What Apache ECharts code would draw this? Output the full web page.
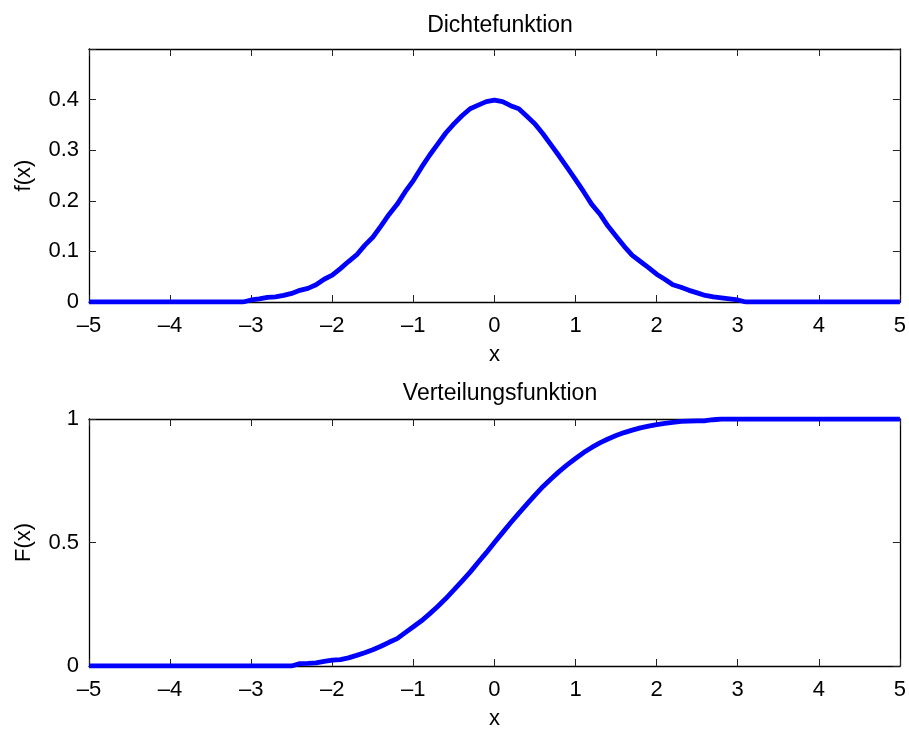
<!DOCTYPE html>
<html><head><meta charset="utf-8">
<script src="https://cdn.jsdelivr.net/npm/echarts@6/dist/echarts.min.js"></script>
<style>html,body{margin:0;padding:0;background:#fff}#c{width:909px;height:731px}</style>
</head><body><div id="c"></div>
<script>
const titles = ['Dichtefunktion', 'Verteilungsfunktion'];
const xAxisTitle = 'x';
const yAxisTitles = ['f(x)', 'F(x)'];
const xTicks = [-5, -4, -3, -2, -1, 0, 1, 2, 3, 4, 5];
const pdfTicks = [0, 0.1, 0.2, 0.3, 0.4];
const cdfTicks = [0, 0.5, 1];

const pdfX = [-5, -3.1, -3.0, -2.9, -2.8, -2.7, -2.6, -2.5, -2.4, -2.3, -2.2, -2.1, -2.0, -1.9, -1.8, -1.7, -1.6, -1.5, -1.4, -1.3, -1.2, -1.1, -1.0, -0.9, -0.8, -0.7, -0.6, -0.5, -0.4, -0.3, -0.2, -0.1, 0.0, 0.1, 0.2, 0.3, 0.4, 0.5, 0.6, 0.7, 0.8, 0.9, 1.0, 1.1, 1.2, 1.3, 1.4, 1.5, 1.6, 1.7, 1.8, 1.9, 2.0, 2.1, 2.2, 2.3, 2.4, 2.5, 2.6, 2.7, 2.8, 2.9, 3.0, 3.1, 5];
const pdfY = [0, 0.000, 0.004, 0.006, 0.009, 0.010, 0.013, 0.017, 0.023, 0.027, 0.034, 0.045, 0.053, 0.066, 0.080, 0.093, 0.112, 0.128, 0.150, 0.173, 0.193, 0.218, 0.240, 0.266, 0.290, 0.312, 0.334, 0.352, 0.368, 0.382, 0.389, 0.396, 0.399, 0.396, 0.388, 0.382, 0.367, 0.352, 0.332, 0.310, 0.288, 0.265, 0.242, 0.218, 0.193, 0.174, 0.150, 0.130, 0.110, 0.092, 0.080, 0.068, 0.055, 0.045, 0.034, 0.029, 0.023, 0.018, 0.013, 0.010, 0.008, 0.006, 0.004, 0.000, 0];

const cdfX = [-5, -2.5, -2.4, -2.3, -2.2, -2.1, -2.0, -1.9, -1.8, -1.7, -1.6, -1.5, -1.4, -1.3, -1.2, -1.1, -1.0, -0.9, -0.8, -0.7, -0.6, -0.5, -0.4, -0.3, -0.2, -0.1, 0.0, 0.1, 0.2, 0.3, 0.4, 0.5, 0.6, 0.7, 0.8, 0.9, 1.0, 1.1, 1.2, 1.3, 1.4, 1.5, 1.6, 1.7, 1.8, 1.9, 2.0, 2.1, 2.2, 2.3, 2.4, 2.5, 2.6, 2.7, 2.8, 5];
const cdfY = [0, 0.000, 0.010, 0.011, 0.013, 0.019, 0.024, 0.026, 0.033, 0.043, 0.054, 0.066, 0.080, 0.096, 0.111, 0.135, 0.159, 0.183, 0.211, 0.241, 0.273, 0.308, 0.344, 0.380, 0.420, 0.459, 0.500, 0.540, 0.580, 0.618, 0.655, 0.692, 0.727, 0.758, 0.788, 0.815, 0.840, 0.864, 0.885, 0.903, 0.919, 0.933, 0.945, 0.955, 0.964, 0.971, 0.977, 0.982, 0.986, 0.990, 0.991, 0.992, 0.993, 0.997, 1.000, 1.000];

const FONT = '"Liberation Sans", Arial, sans-serif';
const FS = 22;
const TFS = 23;
const fmt = v => String(v).replace('-', '\u2013');

const grids = [
  {left: 89, top: 49, width: 812, height: 253},
  {left: 89, top: 419, width: 812, height: 251}
];
const yDefs = [
  {min: 0, max: 0.5, interval: 0.1, ticks: pdfTicks},
  {min: 0, max: 1, interval: 0.5, ticks: cdfTicks}
];

const tickStyle = {show: true, inside: true, length: 7, lineStyle: {color: '#222', width: 1}};
const lineStyle = {color: '#000', width: 1.3};

const xAxes = [], yAxes = [], series = [];
[0, 1].forEach(i => {
  xAxes.push({
    type: 'value', gridIndex: i, min: xTicks[0], max: xTicks[xTicks.length - 1], interval: 1,
    position: 'bottom',
    axisLine: {show: true, onZero: false, lineStyle},
    axisTick: tickStyle, splitLine: {show: false},
    axisLabel: {color: '#000', fontSize: FS, fontFamily: FONT, margin: 13, formatter: fmt},
    name: xAxisTitle, nameLocation: 'middle', nameGap: 42,
    nameTextStyle: {color: '#000', fontSize: FS, fontFamily: FONT}
  });
  xAxes.push({
    type: 'value', gridIndex: i, min: xTicks[0], max: xTicks[xTicks.length - 1], interval: 1,
    position: 'top',
    axisLine: {show: true, onZero: false, lineStyle},
    axisTick: tickStyle, splitLine: {show: false}, axisLabel: {show: false}
  });
  const yd = yDefs[i];
  yAxes.push({
    type: 'value', gridIndex: i, min: yd.min, max: yd.max, interval: yd.interval,
    position: 'left',
    axisLine: {show: true, onZero: false, lineStyle},
    axisTick: tickStyle, splitLine: {show: false},
    axisLabel: {color: '#000', fontSize: FS, fontFamily: FONT, margin: 10,
      formatter: v => yd.ticks.some(t => Math.abs(t - v) < 1e-9) ? String(+v.toFixed(2)) : ''},
    name: yAxisTitles[i], nameLocation: 'middle', nameGap: 54, nameRotate: 90,
    nameTextStyle: {color: '#000', fontSize: FS, fontFamily: FONT}
  });
  yAxes.push({
    type: 'value', gridIndex: i, min: yd.min, max: yd.max, interval: yd.interval,
    position: 'right',
    axisLine: {show: true, onZero: false, lineStyle},
    axisTick: tickStyle, splitLine: {show: false}, axisLabel: {show: false}
  });
});

series.push({
  type: 'line', xAxisIndex: 0, yAxisIndex: 0, showSymbol: false, symbol: 'none',
  data: pdfX.map((x, k) => [x, pdfY[k]]),
  lineStyle: {color: '#0000ff', width: 4.8}, z: 5
});
series.push({
  type: 'line', xAxisIndex: 2, yAxisIndex: 2, showSymbol: false, symbol: 'none',
  data: cdfX.map((x, k) => [x, cdfY[k]]),
  lineStyle: {color: '#0000ff', width: 4.8}, z: 5
});

const chart = echarts.init(document.getElementById('c'), null, {renderer: 'canvas'});
chart.setOption({
  animation: false,
  backgroundColor: '#fff',
  title: [
    {text: titles[0], left: 495, top: 9, textAlign: 'center',
     textStyle: {color: '#000', fontSize: TFS, fontWeight: 'normal', fontFamily: FONT}},
    {text: titles[1], left: 495, top: 377, textAlign: 'center',
     textStyle: {color: '#000', fontSize: TFS, fontWeight: 'normal', fontFamily: FONT}}
  ],
  grid: grids,
  xAxis: xAxes,
  yAxis: yAxes,
  series
});
</script>
</body></html>
